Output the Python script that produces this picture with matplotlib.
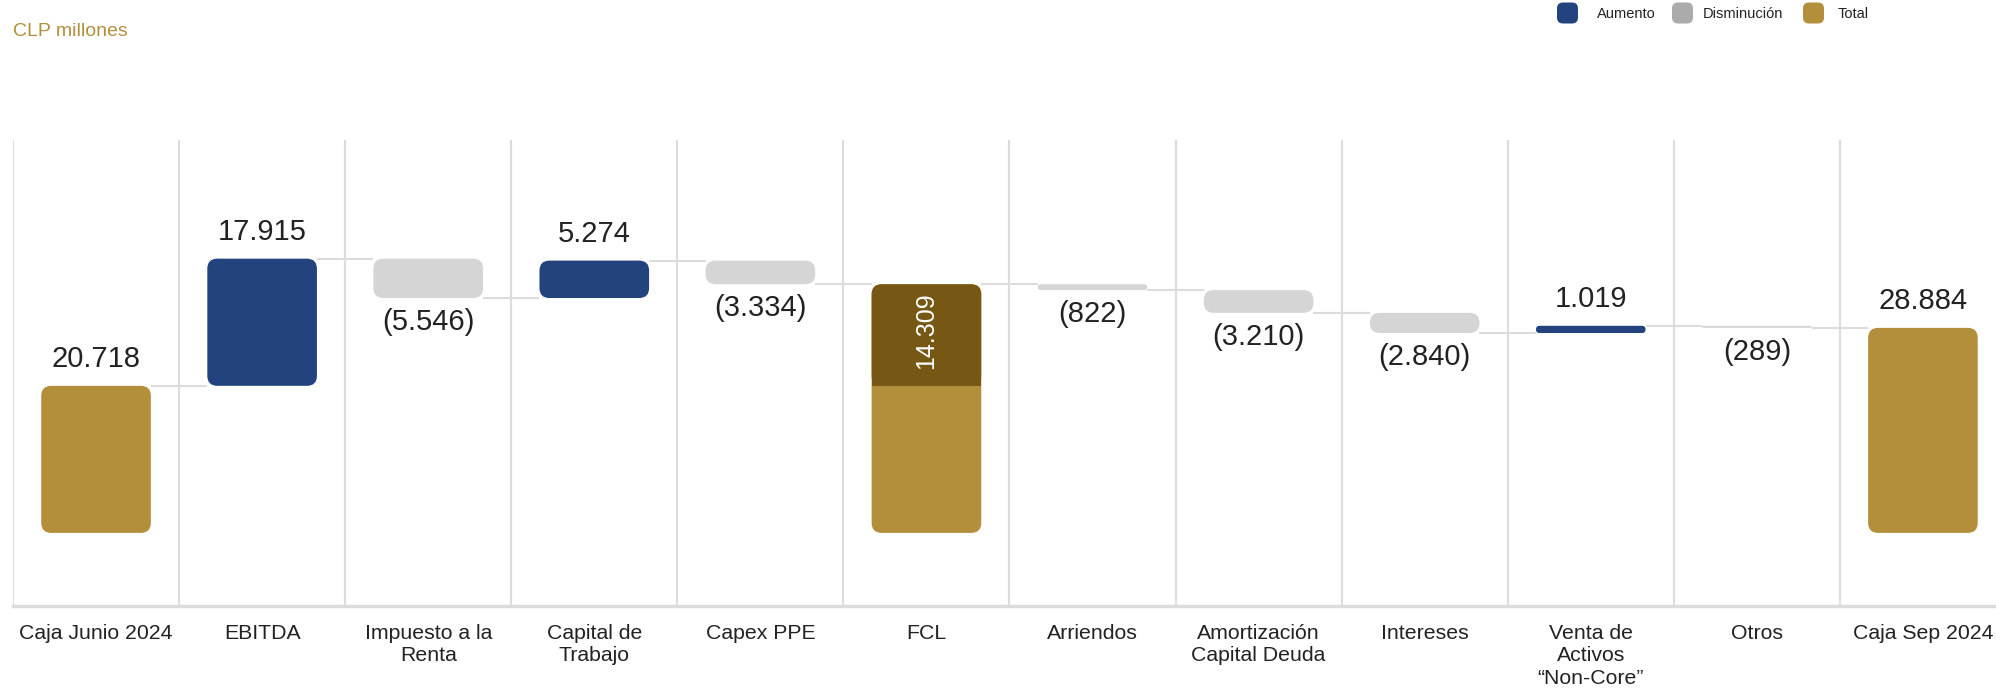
import matplotlib
matplotlib.use("Agg")
import matplotlib.pyplot as plt
from matplotlib.patches import FancyBboxPatch, Rectangle

plt.rcParams["font.family"] = ["Liberation Sans", "DejaVu Sans"]

# ---------------- data ----------------
categories = ["Caja Junio 2024", "EBITDA", "Impuesto a la\nRenta", "Capital de\nTrabajo",
              "Capex PPE", "FCL", "Arriendos", "Amortización\nCapital Deuda", "Intereses",
              "Venta de\nActivos\n“Non-Core”", "Otros", "Caja Sep 2024"]
values = [20718, 17915, -5546, 5274, -3334, 14309, -822, -3210, -2840, 1019, -289, 28884]
kinds = ["total", "delta", "delta", "delta", "delta", "subtotal",
         "delta", "delta", "delta", "delta", "delta", "total"]
legend_labels = ["Aumento", "Disminución", "Total"]

# ---------------- style ----------------
C_UP = "#23437F"
C_DOWN = "#D5D5D5"
C_DOWN_LEG = "#ABABAB"
C_TOTAL = "#B38F3B"
C_FCL = "#765814"
C_GRID = "#DCDCDC"
C_TEXT = "#222222"

W, H = 1996, 692
fig = plt.figure(figsize=(W / 100, H / 100), dpi=100)
ax_left, ax_bottom, ax_top = 13 / W, 1 - 606 / H, 1 - 140 / H
ax = fig.add_axes([ax_left, ax_bottom, 1 - ax_left, ax_top - ax_bottom])
xlim = (-0.5, 11.44)
ylim = (-10300, 55350)
ax.set_xlim(*xlim)
ax.set_ylim(*ylim)

# pixel scales for rounded corners
ax_w_px = (1 - ax_left) * W
ax_h_px = (ax_top - ax_bottom) * H
x_per_px = (xlim[1] - xlim[0]) / ax_w_px
y_per_px = (ylim[1] - ylim[0]) / ax_h_px
aspect = y_per_px / x_per_px
R_PX = 10
bw = 0.66


def fmt(v):
    s = f"{abs(v):,}".replace(",", ".")
    return f"({s})" if v < 0 else s


def rbar(x, lo, hi, color, z=3):
    h = hi - lo
    r = min(R_PX * x_per_px, bw / 2, (h / aspect) / 2)
    p = FancyBboxPatch((x - bw / 2, lo), bw, h,
                       boxstyle=f"round,pad=0,rounding_size={r}",
                       mutation_aspect=aspect, fc=color, ec="none", zorder=z)
    ax.add_patch(p)


running = 0
levels = []
for i, (v, k) in enumerate(zip(values, kinds)):
    if k == "total":
        rbar(i, 0, v, C_TOTAL)
        running = v
        ax.annotate(fmt(v), (i, v), xytext=(0, 9), textcoords="offset points",
                    ha="center", va="bottom", fontsize=21, color=C_TEXT)
    elif k == "delta":
        lo, hi = sorted([running, running + v])
        rbar(i, lo, hi, C_UP if v > 0 else C_DOWN)
        running += v
        if v > 0:
            ax.annotate(fmt(v), (i, hi), xytext=(0, 9), textcoords="offset points",
                        ha="center", va="bottom", fontsize=21, color=C_TEXT)
        else:
            ax.annotate(fmt(v), (i, lo), xytext=(0, -7), textcoords="offset points",
                        ha="center", va="top", fontsize=21, color=C_TEXT)
    elif k == "subtotal":
        base = running - v
        rbar(i, 0, running, C_TOTAL)
        rbar(i, base, running, C_FCL, z=4)
        ax.add_patch(Rectangle((i - bw / 2, base), bw, R_PX * y_per_px * 1.2,
                               fc=C_FCL, ec="none", zorder=4))
        ax.annotate(fmt(v), (i, running), xytext=(0, -6), textcoords="offset points",
                    ha="center", va="top", rotation=90, fontsize=18, color="white",
                    zorder=5)
    levels.append(running)

# connectors
for i in range(len(values) - 1):
    ax.plot([i + bw / 2, i + 1 - bw / 2], [levels[i], levels[i]],
            color=C_GRID, lw=1.5, zorder=2, solid_capstyle="butt")

# vertical separators
for b in range(len(categories) + 1):
    ax.axvline(b - 0.5, color=C_GRID, lw=1.5, zorder=1)

for s in ["top", "right", "left"]:
    ax.spines[s].set_visible(False)
ax.spines["bottom"].set_color(C_GRID)
ax.spines["bottom"].set_linewidth(2.5)
ax.set_yticks([])
ax.set_xticks(range(len(categories)))
ax.set_xticklabels(categories, fontsize=15.3, color=C_TEXT, linespacing=1.22)
ax.tick_params(axis="x", length=0, pad=13)

# title
fig.text(13 / W, 1 - 31 / H, "CLP millones", color=C_TOTAL, fontsize=14,
         ha="left", va="center")

# legend (pixel overlay)
lg = fig.add_axes([0, 0, 1, 1], zorder=10)
lg.set_xlim(0, W)
lg.set_ylim(H, 0)
lg.axis("off")
leg_items = [(1557, 1597, C_UP), (1672, 1703, C_DOWN_LEG), (1803, 1838, C_TOTAL)]
for (mx, tx, c), lab in zip(leg_items, legend_labels):
    lg.add_patch(FancyBboxPatch((mx, 2.5), 21, 21, boxstyle="round,pad=0,rounding_size=6",
                                fc=c, ec="none"))
    lg.text(tx, 13.5, lab, fontsize=10.5, color=C_TEXT, ha="left", va="center")

fig.savefig("out.png", dpi=100)
